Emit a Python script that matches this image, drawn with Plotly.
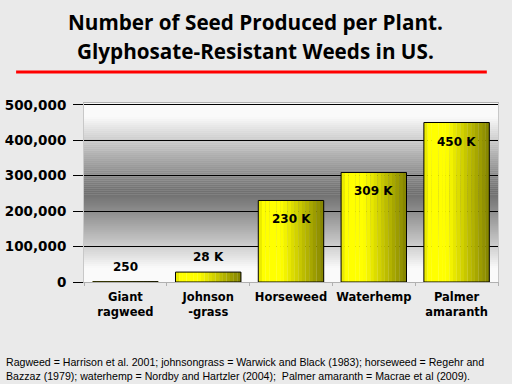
import plotly.graph_objects as go

categories = ["Giant<br>ragweed", "Johnson<br>-grass", "Horseweed", "Waterhemp", "Palmer<br>amaranth"]
seeds = [250, 28000, 230000, 309000, 450000]
value_labels = ["250", "28 K", "230 K", "309 K", "450 K"]
label_pos = ["outside", "outside", "inside", "inside", "inside"]
y_ticks = [0, 100000, 200000, 300000, 400000, 500000]
y_tick_text = ["0", "100,000", "200,000", "300,000", "400,000", "500,000"]

title_lines = ["Number of Seed Produced per Plant.", "Glyphosate-Resistant Weeds in US."]
footnote = ("Ragweed = Harrison et al. 2001; johnsongrass = Warwick and Black (1983); horseweed = Regehr and<br>"
            "Bazzaz (1979); waterhemp = Nordby and Hartzler (2004);  Palmer amaranth = Macrae et al (2009).")

fig = go.Figure()

# cylinder-like shading: vertical stripes of each bar
W = 0.79
N = 18
for i in range(N):
    t = (i + 0.5) / N
    if t < 0.06:
        v = 235
    elif t < 0.35:
        v = 255
    else:
        v = int(255 - (t - 0.35) / 0.65 * 125)
    fig.add_trace(go.Bar(
        x=categories, y=seeds,
        offset=-W / 2 + i * W / N, width=W / N * 1.05,
        marker=dict(color=f"rgb({v},{v},0)", line=dict(width=0)),
        hoverinfo="skip", showlegend=False,
    ))

# outline
fig.add_trace(go.Bar(
    x=categories, y=seeds, width=W,
    marker=dict(color="rgba(0,0,0,0)", line=dict(color="black", width=1)),
    hoverinfo="skip", showlegend=False,
))

# plot-area gray gradient background
shapes = []
B = 90
for k in range(B):
    p0 = k / B
    p1 = (k + 1) / B
    pm = (p0 + p1) / 2
    d = min(1.0, abs(pm - 0.5) / 0.42)
    g = int(112 + (250 - 112) * d ** 1.1)
    shapes.append(dict(type="rect", xref="paper", yref="paper", x0=0, x1=1, y0=p0, y1=p1 + 0.002,
                       fillcolor=f"rgb({g},{g},{g})", line=dict(width=0), layer="below"))
# red rule under title
shapes.append(dict(type="line", xref="paper", yref="paper", x0=-0.164, x1=0.973, y0=1.173, y1=1.173,
                   line=dict(color="#ff0000", width=3)))

annotations = [
    dict(text=title_lines[0], xref="paper", yref="paper", x=0.414, y=1.45, xanchor="center", yanchor="middle",
         showarrow=False, font=dict(family="Open Sans", size=20.7, color="black", weight="bold")),
    dict(text=title_lines[1], xref="paper", yref="paper", x=0.414, y=1.29, xanchor="center", yanchor="middle",
         showarrow=False, font=dict(family="Open Sans", size=20.7, color="black", weight="bold")),
    dict(text=footnote, xref="paper", yref="paper", x=-0.193, y=-0.405, xanchor="left", yanchor="top",
         align="left", showarrow=False, font=dict(family="Liberation Sans", size=10.6, color="black")),
]
# value labels attached to bar tops
for cat, val, lab, pos in zip(categories, seeds, value_labels, label_pos):
    inside = pos == "inside"
    annotations.append(dict(
        x=cat, y=val, xref="x", yref="y", text=lab, showarrow=False,
        yanchor="top" if inside else "bottom", yshift=-10 if inside else 6,
        font=dict(family="DejaVu Sans", size=12, color="black", weight="bold"),
    ))

fig.update_layout(
    width=512, height=384,
    margin=dict(l=84, r=14, t=103, b=102),
    paper_bgcolor="#eaeaea", plot_bgcolor="rgba(0,0,0,0)",
    barmode="overlay", bargap=0.2,
    shapes=shapes, annotations=annotations,
    showlegend=False,
)
fig.update_xaxes(
    automargin=False, tickangle=0, ticklabelstandoff=4,
    showgrid=False, showline=True, linecolor="#b0b0b0", linewidth=1, mirror=True,
    ticks="outside", tickson="boundaries", ticklen=3, tickcolor="#b0b0b0",
    tickfont=dict(family="DejaVu Sans", size=11.5, color="black", weight="bold"),
)
fig.update_yaxes(
    automargin=False, ticklabelstandoff=4,
    range=[0, 505000], tickvals=y_ticks, ticktext=y_tick_text,
    showgrid=True, gridcolor="black", gridwidth=1, zeroline=False,
    showline=True, linecolor="#c8c8c8", linewidth=1, mirror=True,
    ticks="outside", ticklen=10, tickcolor="black",
    tickfont=dict(family="DejaVu Sans", size=13.5, color="black", weight="bold"),
)

fig.write_html("out.html", config={"displayModeBar": False},
               post_script="document.body.style.margin='0';")
